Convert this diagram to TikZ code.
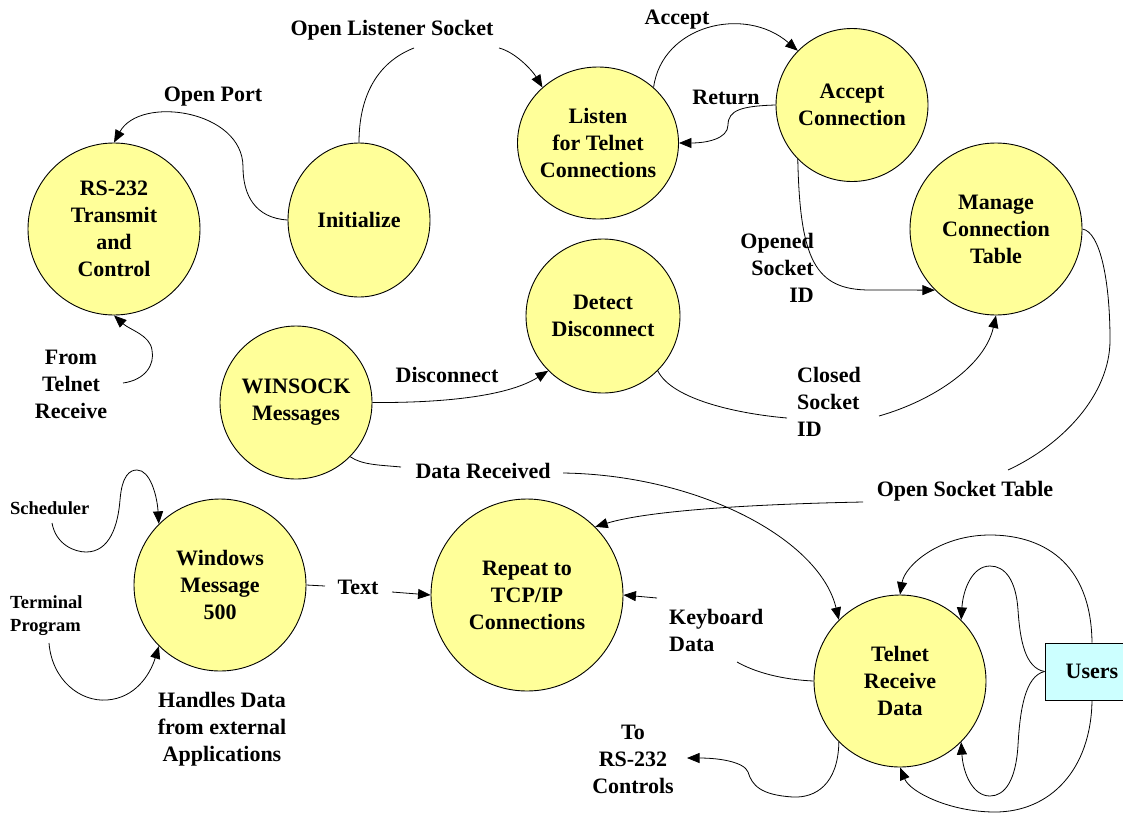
\documentclass[tikz,border=0pt]{standalone}
\usepackage{fontspec}
\setmainfont{Liberation Serif}
\usetikzlibrary{shapes.geometric}
\usetikzlibrary{arrows.meta}

\tikzset{
  bubble/.style={ellipse, draw, line width=0.9pt, fill={rgb,255:red,255;green,255;blue,153}, inner sep=-6pt, align=center, font=\bfseries\fontsize{22}{27}\selectfont},
  lbl/.style={inner sep=0pt, font=\bfseries\fontsize{22}{27}\selectfont},
  smalllbl/.style={inner sep=0pt, font=\bfseries\fontsize{18.5}{23}\selectfont},
  flow/.style={line width=0.8pt},
  flowarr/.style={flow, -{Triangle[length=12.5pt,width=10pt]}},
}

\begin{document}
\begin{tikzpicture}[x=1pt,y=1pt,yscale=-1]
\path[use as bounding box] (0,0) rectangle (1123,814);
\clip (0,0) rectangle (1123,814);

%Shape: Circles
\node[bubble, minimum width=172pt, minimum height=172pt] (rs) at (114,229) {RS-232\\Transmit\\and\\Control};
\node[bubble, minimum width=142pt, minimum height=154pt] (init) at (359,220) {Initialize};
\node[bubble, minimum width=161pt, minimum height=152pt] (listen) at (598,143) {Listen\\for Telnet\\Connections};
\node[bubble, minimum width=152pt, minimum height=153pt] (accept) at (852,105) {Accept\\Connection};
\node[bubble, minimum width=172pt, minimum height=172pt] (manage) at (996,229) {Manage\\Connection\\Table};
\node[bubble, minimum width=154pt, minimum height=154pt] (detect) at (603,316) {Detect\\Disconnect};
\node[bubble, minimum width=152pt, minimum height=153pt] (winsock) at (296,402.5) {WINSOCK\\Messages};
\node[bubble, minimum width=172pt, minimum height=172pt] (winmsg) at (220,585) {Windows\\Message\\500};
\node[bubble, minimum width=192pt, minimum height=192pt] (repeat) at (527,595) {Repeat to\\TCP/IP\\Connections};
\node[bubble, minimum width=172pt, minimum height=172pt] (telnet) at (900,681) {Telnet\\Receive\\Data};
%Shape: Rectangle
\node[draw, line width=0.9pt, fill={rgb,255:red,204;green,255;blue,255}, minimum width=94pt, minimum height=57pt, font=\bfseries\fontsize{22}{27}\selectfont] (users) at (1092,671.5) {Users};

%Free ends at the labels
\coordinate (ols-a) at (414,48);
\coordinate (ols-b) at (499,48);
\coordinate (csi-a) at (787,418);
\coordinate (csi-b) at (879,416);
\coordinate (dr-a) at (401,467);
\coordinate (dr-b) at (563,473);
\coordinate (ost-a) at (1008,470);
\coordinate (ost-b) at (863,502);
\coordinate (txt-a) at (325,586);
\coordinate (txt-b) at (392,592);
\coordinate (sch) at (52,523);
\coordinate (tp) at (49,643);
\coordinate (ftr) at (123,383);
\coordinate (kd-a) at (737,662);
\coordinate (kd-b) at (657,598);
\coordinate (trc) at (687,758);

%Curves: Initialize
\draw[flow] (init.north) .. controls (359,95) and (378,62) .. (ols-a);
\draw[flowarr] (ols-b) .. controls (515,52) and (532,70) .. (listen.135);
\draw[flowarr] (init.west) .. controls (255,218) and (243,195) .. (243,167) .. controls (243,110) and (140,95) .. (rs.north);
%Curves: Listen / Accept
\draw[flowarr] (listen.45) .. controls (662,25) and (745,5) .. (accept.135);
\draw[flowarr] (accept.west) .. controls (742,106) and (728,110) .. (728,125) .. controls (728,139) and (706,143) .. (listen.east);
\draw[flowarr] (accept.225) .. controls (800,260) and (815,290) .. (870,290) -- (manage.225);
%Curves: Disconnect
\draw[flowarr] (winsock.east) .. controls (450,403) and (510,395) .. (detect.225);
\draw[flow] (detect.-45) .. controls (672,400) and (740,414) .. (csi-a);
\draw[flowarr] (csi-b) .. controls (935,400) and (985,365) .. (manage.south);
%Curves: Data Received
\draw[flow] (winsock.-45) .. controls (362,465) and (380,465) .. (dr-a);
\draw[flowarr] (dr-b) .. controls (700,475) and (820,540) .. (telnet.135);
%Curves: Open Socket Table
\draw[flow] (manage.east) .. controls (1100,232) and (1110,280) .. (1110,340) .. controls (1110,395) and (1062,445) .. (ost-a);
\draw[flowarr] (ost-b) .. controls (760,504) and (650,510) .. (repeat.45);
%Curves: Windows Message
\draw[flow] (winmsg.east) -- (txt-a);
\draw[flowarr] (txt-b) -- (repeat.west);
\draw[flowarr] (sch) .. controls (56,545) and (75,552) .. (86,552) .. controls (110,552) and (118,525) .. (120,500) .. controls (122,475) and (130,470) .. (137,470) .. controls (150,470) and (157,495) .. (winmsg.135);
\draw[flowarr] (tp) .. controls (52,680) and (80,702) .. (107,700) .. controls (135,698) and (150,675) .. (winmsg.225);
\draw[flowarr] (ftr) .. controls (145,380) and (155,365) .. (152,350) .. controls (150,335) and (130,330) .. (rs.south);
%Curves: Telnet Receive
\draw[flow] (telnet.west) .. controls (790,680) and (760,675) .. (kd-a);
\draw[flowarr] (kd-b) -- (repeat.east);
\draw[flowarr] (telnet.225) .. controls (838,785) and (815,798) .. (793,797) .. controls (760,795) and (752,785) .. (748,772) .. controls (744,762) and (720,758) .. (trc);
%Curves: Users
\draw[flowarr] (users.north) .. controls (1091,560) and (1040,535) .. (990,535) .. controls (940,535) and (905,565) .. (telnet.north);
\draw[flowarr] (users.south) .. controls (1091,770) and (1050,812) .. (995,812) .. controls (950,812) and (910,792) .. (telnet.south);
\draw[flowarr] (users.west) .. controls (1025,668) and (1020,640) .. (1018,610) .. controls (1016,580) and (1005,566) .. (990,566) .. controls (972,566) and (963,590) .. (telnet.45);
\draw[flowarr] (users.west) .. controls (1025,676) and (1020,710) .. (1018,745) .. controls (1016,780) and (1005,796) .. (990,796) .. controls (972,796) and (963,772) .. (telnet.-45);

% Text Node
\node[lbl] (ols) at (392,30) {Open Listener Socket};
\node[lbl] (op) at (213,97) {Open Port};
\node[lbl] (acc) at (677,20) {Accept};
\node[lbl] (ret) at (726,97) {Return};
\node[lbl, align=right, anchor=east] (osi) at (814,268) {Opened\\Socket\\ID};
\node[lbl] (dis) at (447,375) {Disconnect};
\node[lbl, align=left, anchor=west] (csi) at (797,402) {Closed\\Socket\\ID};
\node[lbl, align=center] (ftrl) at (71,384) {From\\Telnet\\Receive};
\node[lbl] (drl) at (483,471) {Data Received};
\node[lbl] (ostl) at (965,491) {Open Socket Table};
\node[smalllbl, anchor=west] (schl) at (10,508) {Scheduler};
\node[smalllbl, align=left, anchor=west] (tpl) at (10,615.5) {Terminal\\Program};
\node[lbl] (txtl) at (358,587) {Text};
\node[lbl, align=center] (hdl) at (222,729) {Handles Data\\from external\\Applications};
\node[lbl, align=left, anchor=west] (kdl) at (669,630) {Keyboard\\Data};
\node[lbl, align=center] (trcl) at (633,759) {To\\RS-232\\Controls};

\end{tikzpicture}
\end{document}
